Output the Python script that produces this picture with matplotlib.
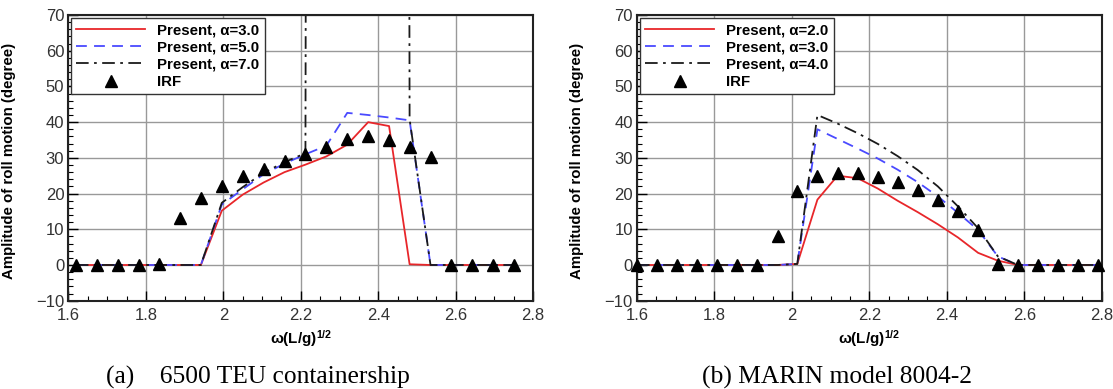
import matplotlib
matplotlib.use("Agg")
import matplotlib.pyplot as plt
from matplotlib.ticker import MultipleLocator

plt.rcParams["font.family"] = ["Liberation Sans", "DejaVu Sans"]
plt.rcParams["mathtext.fontset"] = "custom"
plt.rcParams["mathtext.rm"] = "Liberation Sans"
plt.rcParams["mathtext.bf"] = "Liberation Sans:bold"
plt.rcParams["mathtext.it"] = "Liberation Sans:italic"

# (a) 6500 TEU containership
omega_a = [1.619, 1.673, 1.727, 1.781, 1.835, 1.889, 1.942, 1.996, 2.050, 2.104, 2.158,
           2.212, 2.266, 2.320, 2.374, 2.428, 2.481, 2.535, 2.589, 2.643, 2.697, 2.751]
irf_a = [0, 0, 0, 0, 0.3, 13.1, 18.7, 22.1, 24.8, 27.0, 29.0,
         31.0, 33.1, 35.2, 36.0, 35.0, 33.1, 30.3, 0, 0, 0, 0]
alpha3_a = [0, 0, 0, 0, 0, 0, 0, 15.2, 19.7, 23.1, 26.0,
            28.1, 30.4, 33.7, 40.0, 38.9, 0.2, 0, 0, 0, 0, 0]
alpha5_a = [0, 0, 0, 0, 0, 0, 0, 16.9, 21.2, 25.4, 28.4,
            31.0, 33.4, 42.6, 42.0, 41.3, 40.5, 0, 0, 0, 0, 0]
# alpha=7.0 blows up (off the chart) between 2.2 and 2.48
alpha7_a = [0, 0, 0, 0, 0, 0, 0, 17.4, 21.8, 25.8, 28.8,
            31.3, 3000, 3000, 3000, 3000, 40.8, 0, 0, 0, 0, 0]

# (b) MARIN model 8004-2
omega_b = [1.600, 1.652, 1.704, 1.755, 1.807, 1.859, 1.911, 1.963, 2.014, 2.066, 2.118, 2.170,
           2.222, 2.273, 2.325, 2.377, 2.429, 2.481, 2.532, 2.584, 2.636, 2.688, 2.740, 2.791]
irf_b = [0, 0, 0, 0, 0, 0, 0, 8.2, 20.8, 25.0, 25.8, 25.7,
         24.6, 23.2, 21.0, 18.2, 15.0, 9.7, 0.2, 0, 0, 0, 0, 0]
alpha2_b = [0, 0, 0, 0, 0, 0, 0, 0, 0.3, 18.3, 25.0, 24.3,
            21.4, 18.0, 14.8, 11.4, 7.7, 3.4, 1.2, 0, 0, 0, 0, 0]
alpha3_b = [0, 0, 0, 0, 0, 0, 0, 0, 0.3, 38.0, 35.3, 32.6,
            29.8, 26.7, 23.2, 19.2, 14.6, 9.8, 2.4, 0, 0, 0, 0, 0]
alpha4_b = [0, 0, 0, 0, 0, 0, 0, 0, 0.3, 42.0, 39.6, 36.9,
            33.9, 30.5, 26.6, 22.0, 16.4, 10.3, 2.4, 0, 0, 0, 0, 0]

panels = [
    (omega_a, [alpha3_a, alpha5_a, alpha7_a], ["3.0", "5.0", "7.0"], irf_a,
     "(a)    6500 TEU containership", 0.0615, 0.232),
    (omega_b, [alpha2_b, alpha3_b, alpha4_b], ["2.0", "3.0", "4.0"], irf_b,
     "(b) MARIN model 8004-2", 0.5723, 0.752),
]

styles = [
    dict(color="#e8262a", lw=1.3, ls="-"),
    dict(color="#4a4aff", lw=1.3, ls=(0, (6, 4))),
    dict(color="#1a1a1a", lw=1.3, ls=(0, (7, 3, 1.5, 3))),
]

fig = plt.figure(figsize=(11.13, 3.89), dpi=100)

for omega, series, alphas, irf, caption, left, cap_x in panels:
    ax = fig.add_axes([left, 0.227, 0.4175, 0.7344])
    for vals, a, st in zip(series, alphas, styles):
        ax.plot(omega, vals, label=f"Present, \u03b1={a}", **st)
    ax.plot(omega, irf, ls="none", marker="^", color="black", markersize=9,
            label="IRF", zorder=5, clip_on=False)

    ax.set_xlim(1.6, 2.8)
    ax.set_ylim(-10, 70)
    ax.xaxis.set_major_locator(MultipleLocator(0.2))
    ax.xaxis.set_minor_locator(MultipleLocator(0.05))
    ax.yaxis.set_major_locator(MultipleLocator(10))
    ax.yaxis.set_minor_locator(MultipleLocator(2))
    ax.set_xticks([1.6, 1.8, 2.0, 2.2, 2.4, 2.6, 2.8])
    ax.set_xticklabels(["1.6", "1.8", "2", "2.2", "2.4", "2.6", "2.8"])
    ax.tick_params(which="major", direction="in", length=7, width=1,
                   labelsize=12, labelcolor="#333333", pad=3)
    ax.tick_params(axis="x", which="major", pad=5)
    ax.tick_params(which="minor", direction="in", length=3.5, width=0.8)
    ax.grid(True, which="major", color="#999999", lw=1)
    for sp in ax.spines.values():
        sp.set_linewidth(1.5)
        sp.set_color("#222222")

    ax.set_ylabel("Amplitude of roll motion (degree)", fontsize=10.8,
                  fontweight="bold")
    ax.yaxis.set_label_coords(-0.113, 0.49)
    ax.set_xlabel("\u03c9(L/g)$^{\\mathbf{1/2}}$", fontsize=11,
                  fontweight="bold", labelpad=4)

    leg = ax.legend(loc="upper left", bbox_to_anchor=(0.006, 0.99),
                    borderaxespad=0, fancybox=False, framealpha=1,
                    edgecolor="#333333", handlelength=4.6, handletextpad=0.8,
                    labelspacing=0.22, borderpad=0.35, numpoints=1,
                    prop=dict(weight="bold", size=10.8))
    leg.get_frame().set_linewidth(1)

    fig.text(cap_x, 1 - 377 / 389, caption, ha="center", va="center",
             fontsize=18.4, family="Liberation Serif")

fig.savefig("out.png", dpi=100)
